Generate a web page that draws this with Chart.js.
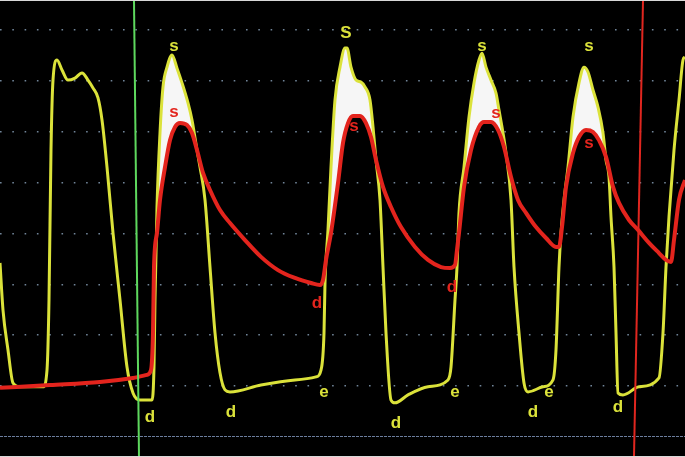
<!DOCTYPE html>
<html>
<head>
    <script src="https://cdn.jsdelivr.net/npm/chart.js"></script>
    <style>
        body { margin: 0; background: #d8d8d8; }
        #wrap { position: absolute; left: 0; top: 1px; width: 685px; height: 455px; background: #000; }
    </style>
</head>
<body>
<div id="wrap"><canvas id="myChart" width="685" height="455"></canvas></div>

<script>
    // yellow trace (sample position, pressure)
    const yellowX = [0, 3, 8, 13, 20, 43, 47, 49, 51, 53, 57, 62, 68, 75, 82, 88, 93, 98, 102, 107, 113, 120, 127, 133, 140, 152,
        154, 155, 157, 160, 163, 167, 172, 177, 182, 188, 192, 197, 200, 205, 210, 215, 220, 225, 230, 261, 295, 316, 321, 324,
        325, 328, 331, 335, 340, 345, 347, 351, 356, 361, 365, 370, 373, 376, 380, 383, 386, 391, 395, 408, 428, 448, 451, 455,
        457, 459, 464, 469, 474, 479, 482, 486, 491, 496, 499, 503, 506, 511, 514, 519, 524, 528, 543, 553, 556, 559, 561, 564,
        568, 573, 579, 584, 588, 593, 598, 603, 606, 609, 611, 614, 616, 618, 623, 639, 659, 663, 666, 669, 674, 679, 683, 685];
    const yellowY = [68.4, 49.9, 34.2, 21.2, 19.7, 19.7, 26.3, 53.9, 112.8, 140.3, 148.2, 144.3, 140.3, 141.1, 143.1, 140.3, 137.2, 133.3, 124.6, 106.1, 80.2, 53.9, 27.5, 17.3, 14.5, 14.5,
        27.5, 53.9, 90.4, 119.5, 137.6, 145.4, 150.2, 145.0, 139.2, 131.3, 124.6, 112.8, 106.1, 93.2, 66.8, 40.9, 25.2, 18.5, 17.7, 20.4, 22.4, 23.6, 26.3, 40.9,
        60.5, 81.4, 106.1, 132.5, 145.4, 152.9, 152.9, 145.4, 140.3, 139.5, 137.6, 132.5, 121.9, 108.9, 93.2, 66.8, 40.9, 14.5, 13.4, 16.5, 19.7, 22.4, 27.5, 53.9,
        66.8, 88.1, 106.1, 125.8, 139.2, 148.2, 150.9, 145.4, 140.3, 135.2, 128.5, 119.5, 111.6, 93.2, 66.8, 40.9, 21.2, 17.7, 19.7, 22.4, 34.2, 66.8, 80.2, 93.2,
        106.1, 125.8, 139.2, 145.4, 143.5, 136.4, 129.7, 119.5, 108.9, 102.2, 86.5, 66.8, 40.9, 17.3, 16.5, 19.7, 23.2, 40.9, 66.8, 86.5, 112.8, 132.5, 148.2, 149.4];

    // red trace
    const redX = [0, 50, 100, 133, 147, 151, 153, 154, 157, 160, 165, 170, 175, 180, 187, 192, 197, 203, 210, 220, 230, 245, 261, 278,
        295, 311, 320, 323, 326, 331, 338, 343, 348, 353, 360, 366, 371, 376, 383, 391, 401, 415, 428, 441, 450, 455, 457, 459,
        464, 471, 479, 484, 491, 498, 504, 511, 518, 526, 536, 546, 556, 559, 562, 566, 573, 579, 586, 593, 599, 606, 613, 619,
        629, 638, 649, 659, 666, 671, 674, 679, 685];
    const redY = [19.3, 20.4, 21.6, 23.2, 24.4, 26.3, 40.9, 66.8, 80.2, 93.2, 106.1, 116.7, 121.9, 123.4, 122.6, 119.5, 112.8, 103.8, 97.1, 89.2, 84.1, 77.4, 70.8, 65.6,
        62.5, 60.5, 59.7, 61.7, 69.6, 80.2, 99.8, 115.6, 123.4, 126.2, 126.2, 123.4, 117.9, 108.9, 98.3, 90.4, 82.5, 74.7, 69.6, 66.8, 66.4, 67.6, 73.5, 80.2,
        98.3, 112.8, 121.9, 123.8, 123.8, 120.7, 114.0, 102.2, 93.2, 88.1, 82.5, 78.2, 74.7, 74.7, 82.5, 98.3, 111.6, 117.9, 120.7, 119.9, 116.7, 110.1, 98.3, 92.0,
        85.3, 81.4, 76.3, 72.3, 69.6, 68.8, 77.4, 93.2, 101.0];

    // cursors (top and bottom ends)
    const greenCursorX = [134, 139];
    const redCursorX = [643, 634];
    const yMin = -7.5;
    const yMax = 171.4;

    // annotations
    const yellowMarkText = ["s", "S", "s", "s", "d", "d", "e", "d", "e", "d", "e", "d"];
    const yellowMarkX = [174, 346, 482, 589, 150, 231, 324, 396, 455, 533, 549, 618];
    const yellowMarkY = [153.7, 158.8, 153.7, 153.7, 7.9, 9.8, 17.7, 5.5, 17.7, 9.8, 17.7, 11.8];
    const redMarkText = ["s", "s", "s", "s", "d", "d"];
    const redMarkX = [174, 354, 496, 589, 317, 452];
    const redMarkY = [127.8, 122.2, 127.4, 115.6, 52.7, 59.0];

    const YELLOW = "#dbe23a";
    const RED = "#e3241d";

    const toPts = (xs, ys) => xs.map((x, i) => ({x: x, y: ys[i]}));
    const yellowPts = toPts(yellowX, yellowY);
    const fillPts = yellowPts.filter(p => p.x >= 145 && p.x <= 625);

    const marks = {
        id: "marks",
        afterDatasetsDraw(chart) {
            const ctx = chart.ctx, xs = chart.scales.x, ys = chart.scales.y;
            ctx.save();
            ctx.textAlign = "center";
            ctx.textBaseline = "middle";
            ctx.font = "bold 17px 'Liberation Sans', Arial, sans-serif";
            const put = (t, x, y, c) => {
                ctx.fillStyle = c;
                ctx.fillText(t, xs.getPixelForValue(x), ys.getPixelForValue(y));
            };
            yellowMarkText.forEach((t, i) => put(t, yellowMarkX[i], yellowMarkY[i], YELLOW));
            redMarkText.forEach((t, i) => put(t, redMarkX[i], redMarkY[i], RED));
            ctx.restore();
        }
    };

    let myChart = new Chart("myChart", {
        type: "line",
        data: {
            datasets: [
                {data: [{x: redCursorX[0], y: yMax}, {x: redCursorX[1], y: yMin}], borderColor: "#e0261f", borderWidth: 2},
                {data: [{x: greenCursorX[0], y: yMax}, {x: greenCursorX[1], y: yMin}], borderColor: "#5ed85e", borderWidth: 2},
                {data: toPts(redX, redY), borderColor: RED, borderWidth: 4, cubicInterpolationMode: "monotone"},
                {data: yellowPts, borderColor: YELLOW, borderWidth: 3, cubicInterpolationMode: "monotone"},
                {data: fillPts, borderColor: "transparent", borderWidth: 1, cubicInterpolationMode: "monotone",
                    fill: {target: 2, above: "#f6f6f6", below: "transparent"}}
            ]
        },
        options: {
            responsive: false,
            animation: false,
            events: [],
            layout: {padding: 0},
            elements: {point: {radius: 0}},
            plugins: {
                legend: {display: false},
                tooltip: {enabled: false},
                filler: {drawTime: "beforeDatasetsDraw"}
            },
            scales: {
                x: {type: "linear", min: 0, max: 685, display: false},
                y: {
                    min: yMin, max: yMax,
                    afterBuildTicks: s => { s.ticks = [0, 20, 40, 60, 80, 100, 120, 140, 160].map(v => ({value: v})); },
                    ticks: {display: false},
                    grid: {
                        drawTicks: false,
                        color: c => c.tick && c.tick.value === 0 ? "rgba(120,140,175,0.9)" : "rgba(140,165,190,0.8)",
                        lineWidth: c => c.tick && c.tick.value === 0 ? 1 : 1.6
                    },
                    border: {
                        display: false,
                        dash: c => c.tick && c.tick.value === 0 ? [3, 1] : [1.6, 10.7]
                    }
                }
            }
        },
        plugins: [marks]
    });
</script>
</body>
</html>
